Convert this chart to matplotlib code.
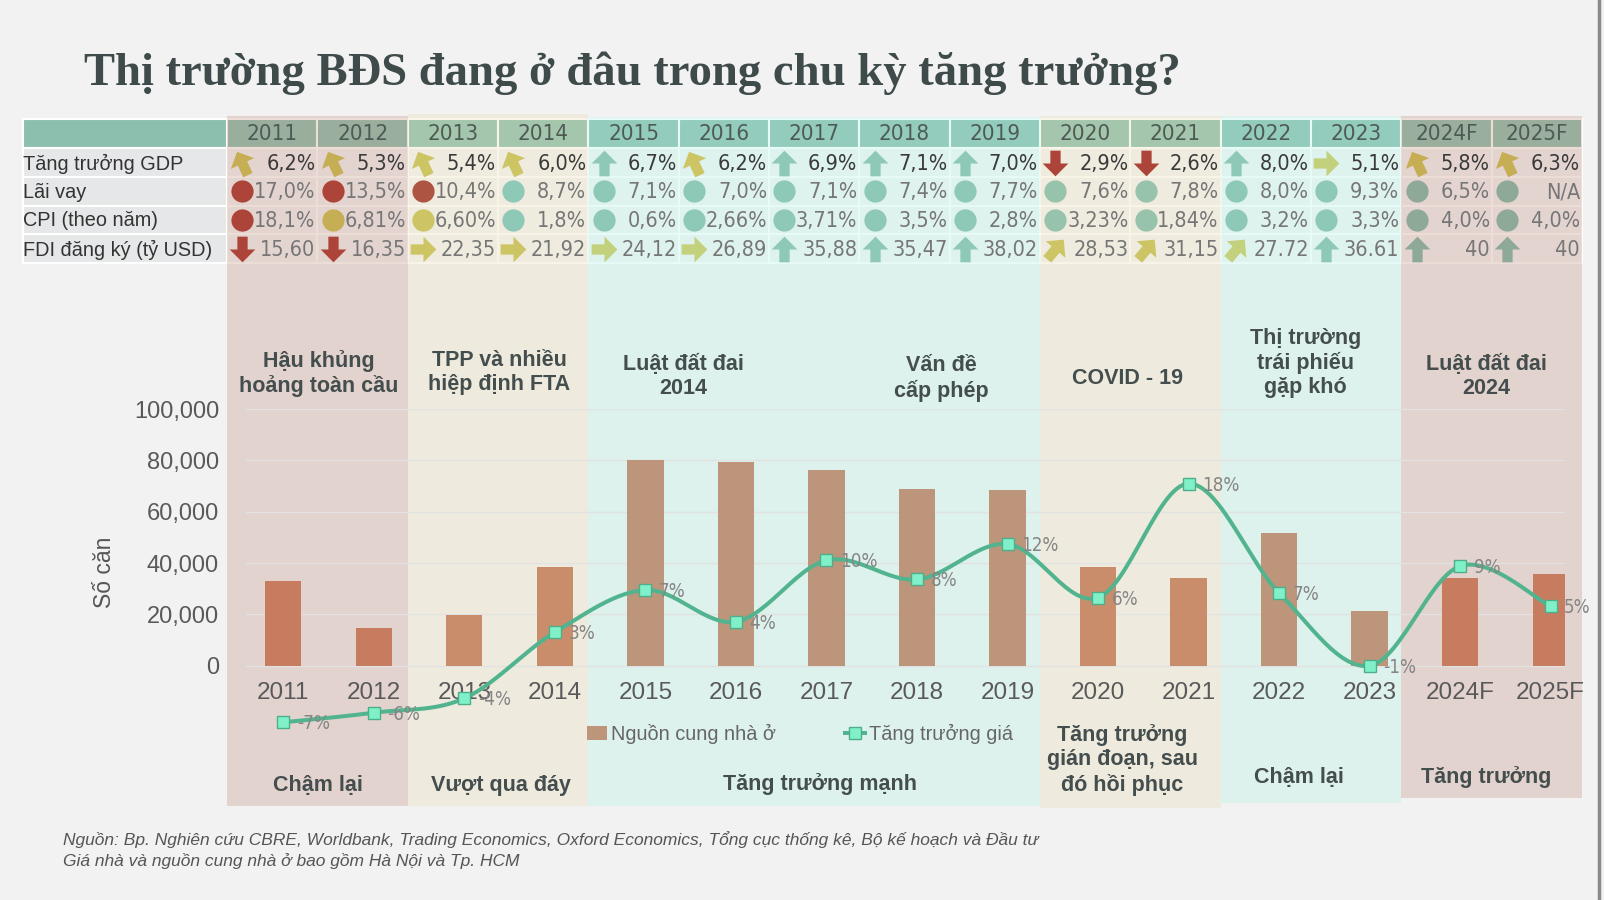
import numpy as np
import matplotlib
matplotlib.use("Agg")
import matplotlib.pyplot as plt
from matplotlib.path import Path
from matplotlib.markers import MarkerStyle
from matplotlib.transforms import Affine2D
from matplotlib.lines import Line2D
from matplotlib.patches import Rectangle
from matplotlib import font_manager
from matplotlib.font_manager import FontProperties

# ---- fonts
SANS = 'Liberation Sans'
SERIF = 'Liberation Serif'
# a condensed face for the table numbers, if one is installed
cond = None
for want in ['Liberation Sans Narrow', 'Noto Sans', 'DejaVu Sans', 'Roboto', 'Open Sans']:
    for f in font_manager.fontManager.ttflist:
        if f.name == want and f.stretch in ('condensed', 'semi-condensed', 'extra-condensed') \
                and f.style == 'normal' and f.weight in (300, 400, 'light', 'normal', 'regular'):
            cond = f.fname
            break
    if cond:
        break
if cond:
    NUMFONT = {'fontproperties': FontProperties(fname=cond)}
    NUMSIZE, YRSIZE, LBLSIZE = 15.5, 16, 13.5
else:
    NUMFONT = {'family': SANS}
    NUMSIZE, YRSIZE, LBLSIZE = 13, 14, 12

# ---- data
years = ['2011', '2012', '2013', '2014', '2015', '2016', '2017', '2018',
         '2019', '2020', '2021', '2022', '2023', '2024F', '2025F']
supply = [33000, 14700, 19900, 38600, 80100, 79300, 76100, 68900,
          68500, 38600, 34300, 51800, 21500, 34300, 35900]
price_growth = [-6.9, -5.9, -4.4, 2.5, 6.9, 3.6, 10.0, 8.0,
                11.7, 6.1, 18.0, 6.6, -1.0, 9.4, 5.2]

row_labels = ['Tăng trưởng GDP', 'Lãi vay', 'CPI (theo năm)', 'FDI đăng ký (tỷ USD)']
gdp = ['6,2%', '5,3%', '5,4%', '6,0%', '6,7%', '6,2%', '6,9%', '7,1%',
       '7,0%', '2,9%', '2,6%', '8,0%', '5,1%', '5,8%', '6,3%']
lai_vay = ['17,0%', '13,5%', '10,4%', '8,7%', '7,1%', '7,0%', '7,1%', '7,4%',
           '7,7%', '7,6%', '7,8%', '8,0%', '9,3%', '6,5%', 'N/A']
cpi = ['18,1%', '6,81%', '6,60%', '1,8%', '0,6%', '2,66%', '3,71%', '3,5%',
       '2,8%', '3,23%', '1,84%', '3,2%', '3,3%', '4,0%', '4,0%']
fdi = ['15,60', '16,35', '22,35', '21,92', '24,12', '26,89', '35,88', '35,47',
       '38,02', '28,53', '31,15', '27.72', '36.61', '40', '40']

# icon kind / colour key per cell
gdp_icon = ['nw', 'nw', 'nw', 'nw', 'up', 'nw', 'up', 'up', 'up', 'down', 'down', 'up', 'right', 'nw', 'nw']
gdp_col = ['gold', 'gold', 'yel', 'yel', 'teal', 'yel', 'teal', 'teal', 'teal', 'red', 'red', 'teal', 'lime', 'gold', 'gold']
lai_icon = ['dot'] * 15
lai_col = ['red', 'red', 'red2', 'teal', 'teal', 'teal', 'teal', 'teal', 'teal',
           'teal2', 'teal2', 'teal', 'teal', 'grey', 'grey']
cpi_icon = ['dot'] * 15
cpi_col = ['red', 'gold', 'yel', 'teal', 'teal', 'teal', 'teal', 'teal', 'teal',
           'teal2', 'teal2', 'teal', 'teal', 'grey', 'grey']
fdi_icon = ['down', 'down', 'right', 'right', 'right', 'right', 'up', 'up', 'up',
            'ne', 'ne', 'ne', 'up', 'up', 'up']
fdi_col = ['red', 'red', 'yel', 'yel', 'lime', 'lime', 'teal', 'teal', 'teal',
           'yel', 'yel', 'lime', 'teal', 'grey', 'grey']

phase_span = [(0, 2), (2, 4), (4, 9), (9, 11), (11, 13), (13, 15)]
phase_kind = ['pink', 'beige', 'teal', 'beige', 'teal', 'pink']
top_labels = ['Hậu khủng\nhoảng toàn cầu', 'TPP và nhiều\nhiệp định FTA', 'Luật đất đai\n2014',
              'Vấn đề\ncấp phép', 'COVID - 19', 'Thị trường\ntrái phiếu\ngặp khó', 'Luật đất đai\n2024']
bottom_labels = ['Chậm lại', 'Vượt qua đáy', 'Tăng trưởng mạnh',
                 'Tăng trưởng\ngián đoạn, sau\nđó hồi phục', 'Chậm lại', 'Tăng trưởng']

icon_colors = {'gold': '#c6ae55', 'yel': '#cdc464', 'lime': '#c3d07c', 'teal': '#8ec8b7',
               'teal2': '#97c2ab', 'red': '#ad4439', 'red2': '#ae5443', 'grey': '#8fa999'}
band_colors = {'pink': (0.745, 0.51, 0.431, 0.27), 'beige': (0.90, 0.855, 0.667, 0.27),
               'teal': (0.651, 0.949, 0.886, 0.27)}
bar_colors = {'pink': '#c77b5f', 'beige': '#c98d6b', 'teal': '#bc957a'}

# ---- figure (overlay works in a 1568 x 880 grid)
W, H = 1568, 880
fig = plt.figure(figsize=(16.04, 9.0), dpi=100)
fig.patch.set_facecolor('#f2f2f2')

bg = fig.add_axes([0, 0, 1, 1])
bg.set_xlim(0, W)
bg.set_ylim(H, 0)
bg.axis('off')
bg.set_zorder(0)

bg.text(82, 72, 'Thị trường BĐS đang ở đâu trong chu kỳ tăng trưởng?', family=SERIF,
        weight='bold', fontsize=33.6, color='#3f4b4b', va='center', ha='left')

# table
tab_left, lab_w, col_w = 22, 200, 88.3
row_edges = [116, 145, 173, 201, 229, 257]
col0 = tab_left + lab_w


def col_left(k):
    return col0 + col_w * k


for r in range(5):
    y0, y1 = row_edges[r], row_edges[r + 1]
    bg.add_patch(Rectangle((tab_left, y0), lab_w, y1 - y0, fc='#8cbfae' if r == 0 else '#e6e7e8',
                           ec='white', lw=1.5, zorder=1))
    for k in range(len(years)):
        bg.add_patch(Rectangle((col_left(k), y0), col_w, y1 - y0, fc='#8cbfae' if r == 0 else '#f3f3f3',
                               ec='white', lw=1.5, zorder=1))

# phase bands
band_top = [113, 111, 114, 113, 113, 113]
band_bottom = [788, 788, 788, 790, 785, 780]
for (a, b), kind, yt, yb in zip(phase_span, phase_kind, band_top, band_bottom):
    bg.add_patch(Rectangle((col_left(a), yt), col_left(b) - col_left(a), yb - yt,
                           fc=band_colors[kind], ec='none', zorder=2))

for k, yr in enumerate(years):
    bg.text(col_left(k) + col_w / 2, 131, yr, fontsize=YRSIZE, color='#4e5a55',
            ha='center', va='center', zorder=4, **NUMFONT)

arrow_path = Path([(-0.2, -0.5), (0.2, -0.5), (0.2, 0.0), (0.5, 0.0), (0.0, 0.5),
                   (-0.5, 0.0), (-0.2, 0.0), (-0.2, -0.5)], closed=True)
angles = {'up': 0, 'down': 180, 'right': -90, 'ne': -40, 'nw': 25}

rows = [(gdp, gdp_icon, gdp_col, '#3a3a3a'), (lai_vay, lai_icon, lai_col, '#767676'),
        (cpi, cpi_icon, cpi_col, '#767676'), (fdi, fdi_icon, fdi_col, '#767676')]
for r, (vals, icons, cols, tcol) in enumerate(rows):
    yc = (row_edges[r + 1] + row_edges[r + 2]) / 2
    bg.text(tab_left, yc + 1, row_labels[r], family=SANS, fontsize=14.3, color='#333333',
            ha='left', va='center', zorder=4)
    for k in range(len(years)):
        xi = col_left(k) + 15
        c = icon_colors[cols[k]]
        if icons[k] == 'dot':
            bg.plot(xi, yc, 'o', ms=16, mfc=c, mec='none', zorder=4)
        else:
            m = MarkerStyle(arrow_path, transform=Affine2D().rotate_deg(angles[icons[k]]))
            bg.plot(xi, yc, marker=m, ms=18.5, mfc=c, mec='none', ls='none', zorder=4)
        bg.text(col_left(k + 1) - 2, yc + 1, vals[k], fontsize=NUMSIZE, color=tcol,
                ha='right', va='center', zorder=4, **NUMFONT)

# phase captions
top_pos = [(312, 365), (488, 364), (668, 368), (920, 370), (1102, 370), (1276, 355), (1453, 368)]
for txt, (px, py) in zip(top_labels, top_pos):
    bg.text(px, py, txt, family=SANS, weight='bold', fontsize=15.5, color='#454e4e',
            ha='center', va='center', linespacing=1.2, zorder=4)
bottom_pos = [(311, 768), (490, 768), (802, 767), (1097, 743), (1270, 760), (1453, 760)]
for txt, (px, py) in zip(bottom_labels, bottom_pos):
    bg.text(px, py, txt, family=SANS, weight='bold', fontsize=15.5, color='#454e4e',
            ha='center', va='center', linespacing=1.2, zorder=4)

bg.text(62, 821, 'Nguồn: Bp. Nghiên cứu CBRE, Worldbank, Trading Economics, Oxford Economics, '
        'Tổng cục thống kê, Bộ kế hoạch và Đầu tư', family=SANS, style='italic', fontsize=12.5,
        color='#555555', ha='left', va='center')
bg.text(62, 842, 'Giá nhà và nguồn cung nhà ở bao gồm Hà Nội và Tp. HCM', family=SANS,
        style='italic', fontsize=12.5, color='#555555', ha='left', va='center')
bg.plot([1563, 1563], [0, H], color='#8a8a8a', lw=2.5)

# ---- main chart
ax = fig.add_axes([240 / W, 1 - 720 / H, 1290 / W, 320 / H])
ax.set_zorder(2)
ax.patch.set_visible(False)
x = np.arange(len(years))
bcol = []
for (a, b), kind in zip(phase_span, phase_kind):
    bcol += [bar_colors[kind]] * (b - a)
ax.bar(x, supply, width=0.4, color=bcol, zorder=2)
ax.set_xlim(-0.418, 14.16)
ax.set_ylim(-27490, 100000)
yt = [0, 20000, 40000, 60000, 80000, 100000]
ax.set_yticks(yt)
ax.set_yticklabels([f'{v:,}' for v in yt], family=SANS, fontsize=17, color='#595959')
ax.tick_params(axis='y', length=0, pad=19)
ax.set_xticks([])
ax.yaxis.grid(True, color='#e2e2e2', lw=1)
ax.set_axisbelow(True)
for s in ax.spines.values():
    s.set_visible(False)
for i, yr in enumerate(years):
    ax.text(i, -10700, yr, family=SANS, fontsize=17.5, color='#595959', ha='center', va='center')
ax.set_ylabel('Số căn', family=SANS, fontsize=16.5, color='#555555', labelpad=13)


def catmull_rom(xv, yv, n=30, sx=1.0, sy=1.0):
    p = np.column_stack([np.asarray(xv, float) * sx, np.asarray(yv, float) * sy])
    p = np.vstack([p[0], p, p[-1]])
    t = np.linspace(0, 1, n, endpoint=False)[:, None]
    out = []
    for i in range(1, len(p) - 2):
        p0, p1, p2, p3 = p[i - 1], p[i], p[i + 1], p[i + 2]
        out.append(0.5 * (2 * p1 + (-p0 + p2) * t + (2 * p0 - 5 * p1 + 4 * p2 - p3) * t ** 2
                          + (-p0 + 3 * p1 - 3 * p2 + p3) * t ** 3))
    out.append(p[-2][None, :])
    out = np.vstack(out)
    return out[:, 0] / sx, out[:, 1] / sy


ax2 = ax.twinx()
ax2.patch.set_visible(False)
ax2.set_ylim(-8.37, 25.78)
ax2.axis('off')
sx_, sy_ = catmull_rom(x, price_growth, sx=88.5, sy=9.37)
ax2.plot(sx_, sy_, color='#52b48e', lw=2.9, zorder=3, clip_on=False, solid_capstyle='round')
ax2.plot(x, price_growth, 's', ms=8, mfc='#7ff0c8', mec='#4fae8a', mew=1, zorder=4, clip_on=False)
for i, v in enumerate(price_growth):
    ax2.text(i + 0.15, v - 0.15, f'{int(np.floor(v + 0.5))}%', fontsize=LBLSIZE,
             color='#858585', ha='left', va='center', zorder=5, **NUMFONT)

handles = [Rectangle((0, 0), 1, 1, fc='#bc957a'),
           Line2D([], [], color='#52b48e', lw=2.9, marker='s', ms=8, mfc='#7ff0c8', mec='#4fae8a')]
ax.legend(handles, ['Nguồn cung nhà ở', 'Tăng trưởng giá'], loc='center',
          bbox_to_anchor=(782 / W, 1 - 718 / H), bbox_transform=fig.transFigure,
          ncol=2, frameon=False, prop={'family': SANS, 'size': 14.3},
          handlelength=1.0, handletextpad=0.2, columnspacing=3.5, labelcolor='#666666')

fig.savefig('out.png', dpi=100, facecolor=fig.get_facecolor())
